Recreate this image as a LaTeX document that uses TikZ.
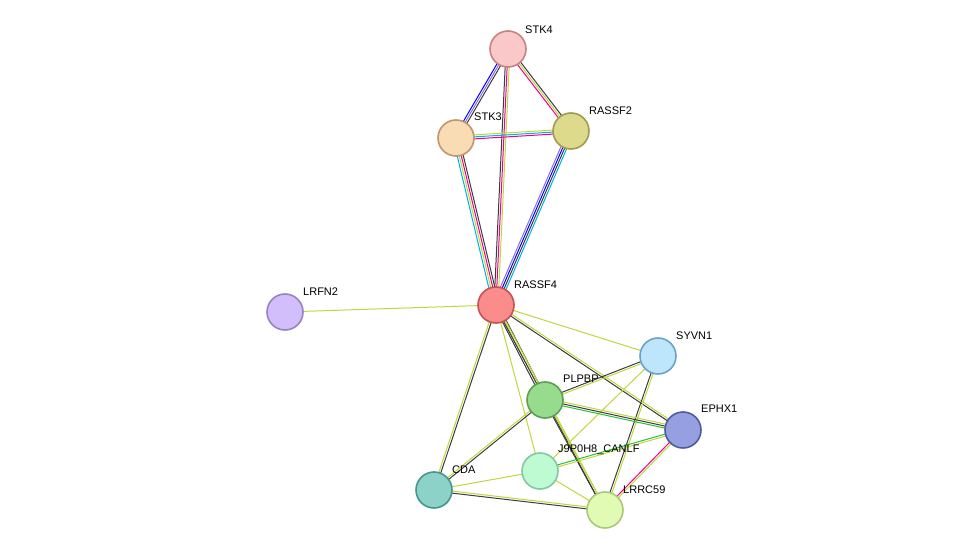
\documentclass[tikz,border=0pt]{standalone}
\usepackage{fontspec}
\setmainfont{Liberation Sans}
\usetikzlibrary{calc}
\definecolor{yg}{RGB}{190,215,60}
\definecolor{vi}{RGB}{140,110,230}
\definecolor{gr}{RGB}{40,190,60}
\definecolor{dk}{RGB}{60,60,60}
\newcommand\medge[3]{\foreach \o/\c in {#3}{\draw[\c,line width=1pt] ($(#1)!\o*1pt!90:(#2)$) -- ($(#2)!\o*1pt!-90:(#1)$);}}
\tikzset{prot/.style={circle,minimum size=36pt,line width=1.6pt,inner sep=0pt},
lab/.style={font=\fontsize{11}{12}\selectfont,anchor=south west,inner sep=1pt}}
\begin{document}
\begin{tikzpicture}[x=1pt,y=-1pt]
\useasboundingbox (0,0) rectangle (975,556);
\coordinate (STK4) at (508,49);
\coordinate (STK3) at (456,138);
\coordinate (RASSF2) at (571,131);
\coordinate (RASSF4) at (496,305);
\coordinate (LRFN2) at (285,312);
\coordinate (SYVN1) at (658,356);
\coordinate (PLPBP) at (545,400);
\coordinate (EPHX1) at (683,430);
\coordinate (J9) at (540,471);
\coordinate (CDA) at (434,490);
\coordinate (LRRC59) at (605,510);
\medge{STK4}{STK3}{-2/blue,0/vi,2/dk}
\medge{STK4}{RASSF2}{-2/magenta,0/yg,2/dk}
\medge{STK4}{RASSF4}{-2/dk,0/magenta,2/yg}
\medge{STK3}{RASSF2}{-2/magenta,0/cyan,2/yg}
\medge{STK3}{RASSF4}{-3/cyan,-1/yg,1/magenta,3/dk}
\medge{RASSF2}{RASSF4}{-3/vi,-1/blue,1/dk,3/cyan}
\medge{RASSF4}{LRFN2}{0/yg}
\medge{RASSF4}{SYVN1}{0/yg}
\medge{RASSF4}{PLPBP}{-2/dk,0/yg,2/dk}
\medge{RASSF4}{EPHX1}{-1/dk,1/yg}
\medge{RASSF4}{LRRC59}{-1/dk,1/yg}
\medge{RASSF4}{J9}{0/yg}
\medge{RASSF4}{CDA}{-1/yg,1/dk}
\medge{SYVN1}{PLPBP}{-1/dk,1/yg}
\medge{SYVN1}{LRRC59}{-1/dk,1/yg}
\medge{SYVN1}{J9}{0/yg}
\medge{PLPBP}{EPHX1}{-2/gr,0/dk,2/yg}
\medge{PLPBP}{CDA}{-1/yg,1/dk}
\medge{PLPBP}{LRRC59}{-1/dk,1/yg}
\medge{EPHX1}{J9}{-1/gr,1/yg}
\medge{EPHX1}{LRRC59}{-1/magenta,1/yg}
\medge{CDA}{J9}{0/yg}
\medge{CDA}{LRRC59}{-1/dk,1/yg}
\medge{J9}{LRRC59}{0/yg}
\node[prot,fill={rgb,255:red,250;green,200;blue,200},draw={rgb,255:red,200;green,130;blue,130}] (nSTK4) at (STK4) {};
\node[prot,fill={rgb,255:red,250;green,220;blue,180},draw={rgb,255:red,190;green,150;blue,110}] (nSTK3) at (STK3) {};
\node[prot,fill={rgb,255:red,222;green,218;blue,140},draw={rgb,255:red,160;green,155;blue,80}] (nRASSF2) at (RASSF2) {};
\node[prot,fill={rgb,255:red,250;green,140;blue,140},draw={rgb,255:red,200;green,80;blue,80}] (nRASSF4) at (RASSF4) {};
\node[prot,fill={rgb,255:red,210;green,190;blue,250},draw={rgb,255:red,150;green,130;blue,200}] (nLRFN2) at (LRFN2) {};
\node[prot,fill={rgb,255:red,190;green,230;blue,250},draw={rgb,255:red,110;green,160;blue,200}] (nSYVN1) at (SYVN1) {};
\node[prot,fill={rgb,255:red,150;green,220;blue,140},draw={rgb,255:red,90;green,160;blue,80}] (nPLPBP) at (PLPBP) {};
\node[prot,fill={rgb,255:red,150;green,160;blue,225},draw={rgb,255:red,80;green,90;blue,160}] (nEPHX1) at (EPHX1) {};
\node[prot,fill={rgb,255:red,190;green,250;blue,210},draw={rgb,255:red,130;green,200;blue,160}] (nJ9) at (J9) {};
\node[prot,fill={rgb,255:red,140;green,210;blue,200},draw={rgb,255:red,70;green,150;blue,140}] (nCDA) at (CDA) {};
\node[prot,fill={rgb,255:red,225;green,250;blue,180},draw={rgb,255:red,170;green,200;blue,120}] (nLRRC59) at (LRRC59) {};
\node[lab] at (524,35) {STK4};
\node[lab] at (473,122) {STK3};
\node[lab] at (588,116) {RASSF2};
\node[lab] at (513,290) {RASSF4};
\node[lab] at (302,297) {LRFN2};
\node[lab] at (675,341) {SYVN1};
\node[lab] at (562,384) {PLPBP};
\node[lab] at (700,414) {EPHX1};
\node[lab] at (557,456) {J9P0H8\_CANLF};
\node[lab] at (451,475) {CDA};
\node[lab] at (622,495) {LRRC59};
\end{tikzpicture}
\end{document}
